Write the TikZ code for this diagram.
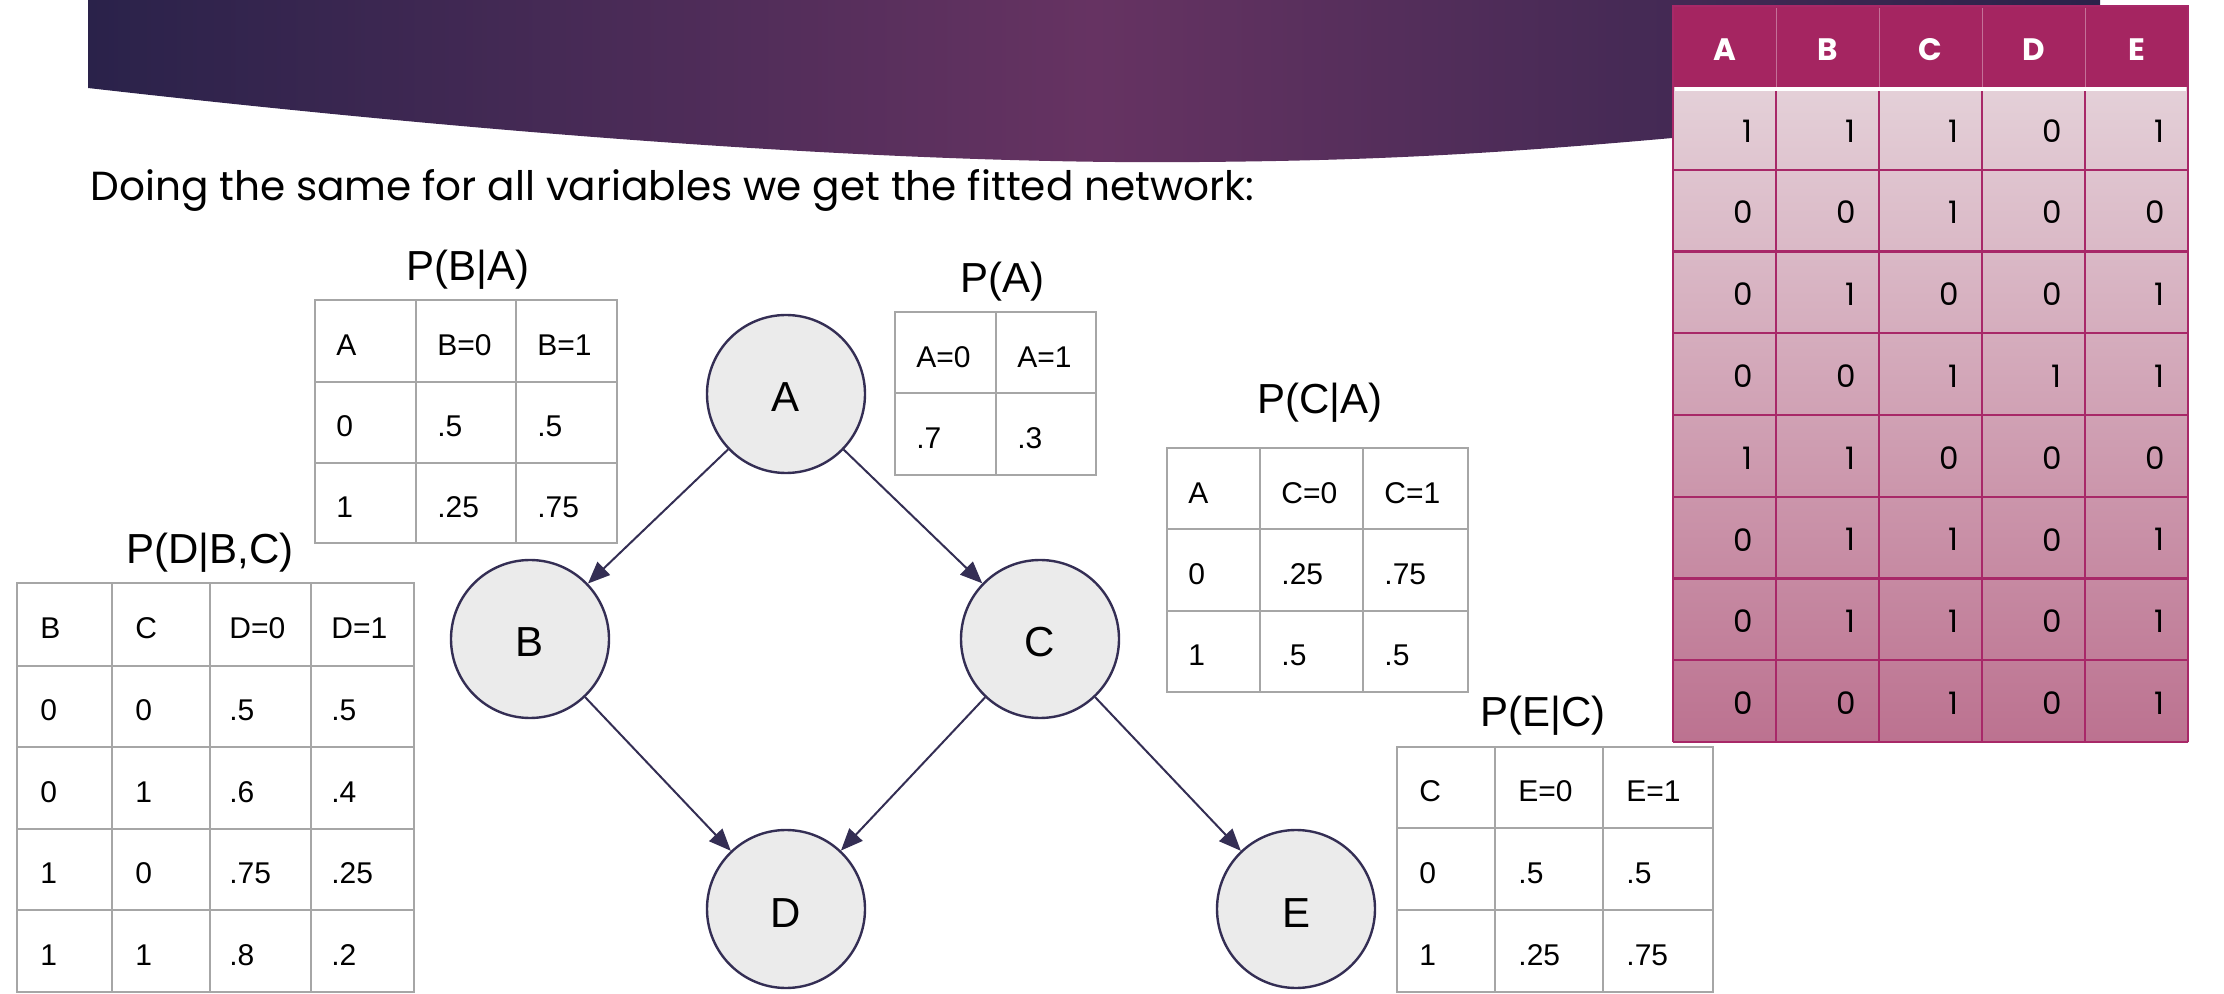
\documentclass[tikz,border=0pt]{standalone}
\usepackage{fontspec}
\setmainfont{Liberation Sans}
\newfontfamily\gothic{Poppins}
\usetikzlibrary{arrows.meta}

\definecolor{bannerdark}{RGB}{42,34,74}
\definecolor{bannermid}{RGB}{102,51,98}
\definecolor{gridgray}{RGB}{166,166,166}
\definecolor{nodeedge}{RGB}{52,46,84}
\definecolor{nodefill}{RGB}{235,235,235}
\definecolor{headmagenta}{RGB}{165,37,97}
\definecolor{cellline}{RGB}{168,40,104}
\definecolor{celltop}{RGB}{228,208,216}
\definecolor{cellbottom}{RGB}{188,114,144}

\pgfdeclarehorizontalshading{banner}{100bp}{color(0bp)=(bannerdark); color(25bp)=(bannerdark); color(50bp)=(bannermid); color(75bp)=(bannerdark); color(100bp)=(bannerdark)}

\begin{document}
\begin{tikzpicture}[x=0.5pt, y=-0.5pt,
	var/.style={circle, draw=nodeedge, fill=nodefill, line width=1.2pt, minimum size=79pt, inner sep=0pt, text height=18pt, text depth=0pt, font=\fontsize{21}{25}\selectfont},
	link/.style={nodeedge, line width=1pt, -{Triangle[length=11pt,width=9pt]}},
	cpt/.style={gridgray, line width=1.3pt},
	cell/.style={anchor=west, inner sep=0pt, font=\fontsize{15}{18}\selectfont},
	title/.style={inner sep=0pt, font=\fontsize{21}{25}\selectfont},
	hdr/.style={inner sep=0pt, text=white, font=\gothic\bfseries\fontsize{15.5}{18}\selectfont},
	bit/.style={anchor=east, inner sep=0pt, font=\gothic\fontsize{15.5}{18}\selectfont}]
				\useasboundingbox (0,0) rectangle (2224,994);
				%
				\shade [shading=banner] (88,0) -- (88,88) .. controls (500,135) and (900,165) .. (1200,162)
				.. controls (1450,160) and (1600,148) .. (2100,95) -- (2100,0) -- cycle;
				\node [anchor=base west, inner sep=0pt, font=\gothic\fontsize{20.3}{24}\selectfont] (intro) at (90,201) {Doing the same for all variables we get the fitted network:};
				%
				\fill [headmagenta] (1673,6) rectangle (2188,88);
				\shade [top color=celltop, bottom color=cellbottom] (1673,88) rectangle (2188,742);
				\foreach \x in {1776,1879,...,2085} \draw [white, opacity=0.35, line width=0.5pt] (\x,8) -- (\x,88);
				\foreach \x in {1673,1776,...,2188} \draw [cellline, line width=1.1pt] (\x,88) -- (\x,742);
				\foreach \y in {1,...,8} \draw [cellline, line width=1.1pt] (1673,{88+81.75*\y}) -- (2188,{88+81.75*\y});
				\draw [cellline, line width=1.1pt] (1673,88) -- (1673,6) -- (2188,6) -- (2188,88);
				\draw [white, line width=2pt] (1675,89) -- (2186,89);
				\foreach \h [count=\i] in {A,B,C,D,E}
					\node [hdr] (h\h) at ({1673+103*(\i-0.5)},50) {\h};
				\foreach \row [count=\r] in {{1,1,1,0,1},{0,0,1,0,0},{0,1,0,0,1},{0,0,1,1,1},{1,1,0,0,0},{0,1,1,0,1},{0,1,1,0,1},{0,0,1,0,1}}
					\foreach \v [count=\c] in \row
						\node [bit] (d\r\c) at ({1673+103*\c-23},{90+81.75*(\r-0.5)}) {\v};
				%
				\node [title] (tBA) at (468,270) {P(B|A)};
				\draw [cpt] (315,300) rectangle (617,543);
				\draw [cpt] (416,300) -- (416,543) (516,300) -- (516,543) (315,382) -- (617,382) (315,463) -- (617,463);
				\foreach \yy/\ma/\mb/\mc [count=\r] in {345/A/B=0/B=1, 426/0/.5/.5, 507/1/.25/.75} {
					\node [cell] (ba\r1) at (336,\yy) {\ma};
					\node [cell] (ba\r2) at (437,\yy) {\mb};
					\node [cell] (ba\r3) at (537,\yy) {\mc};
				}
				%
				\node [title] (tA) at (1002,282) {P(A)};
				\draw [cpt] (895,312) rectangle (1096,475);
				\draw [cpt] (996,312) -- (996,475) (895,393) -- (1096,393);
				\node [cell] (a11) at (916,357) {A=0};
				\node [cell] (a12) at (1017,357) {A=1};
				\node [cell] (a21) at (916,438) {.7};
				\node [cell] (a22) at (1017,438) {.3};
				%
				\node [title] (tCA) at (1320,403) {P(C|A)};
				\draw [cpt] (1167,448) rectangle (1468,692);
				\draw [cpt] (1260,448) -- (1260,692) (1363,448) -- (1363,692) (1167,529) -- (1468,529) (1167,611) -- (1468,611);
				\foreach \yy/\ma/\mb/\mc [count=\r] in {493/A/C=0/C=1, 574/0/.25/.75, 655/1/.5/.5} {
					\node [cell] (ca\r1) at (1188,\yy) {\ma};
					\node [cell] (ca\r2) at (1281,\yy) {\mb};
					\node [cell] (ca\r3) at (1384,\yy) {\mc};
				}
				%
				\node [title] (tDBC) at (210,553) {P(D|B,C)};
				\draw [cpt] (17,583) rectangle (414,992);
				\draw [cpt] (112,583) -- (112,992) (210,583) -- (210,992) (311,583) -- (311,992);
				\foreach \y in {666,747,829,910} \draw [cpt] (17,\y) -- (414,\y);
				\foreach \yy/\ma/\mb/\mc/\md [count=\r] in {628/B/C/D=0/D=1, 710/0/0/.5/.5, 792/0/1/.6/.4, 873/1/0/.75/.25, 955/1/1/.8/.2} {
					\node [cell] (dbc\r1) at (40,\yy) {\ma};
					\node [cell] (dbc\r2) at (135,\yy) {\mb};
					\node [cell] (dbc\r3) at (229,\yy) {\mc};
					\node [cell] (dbc\r4) at (331,\yy) {\md};
				}
				%
				\node [title] (tEC) at (1543,716) {P(E|C)};
				\draw [cpt] (1397,747) rectangle (1713,992);
				\draw [cpt] (1495,747) -- (1495,992) (1603,747) -- (1603,992) (1397,828) -- (1713,828) (1397,910) -- (1713,910);
				\foreach \yy/\ma/\mb/\mc [count=\r] in {791/C/E=0/E=1, 873/0/.5/.5, 955/1/.25/.75} {
					\node [cell] (ec\r1) at (1419,\yy) {\ma};
					\node [cell] (ec\r2) at (1518,\yy) {\mb};
					\node [cell] (ec\r3) at (1626,\yy) {\mc};
				}
				%
				\node [var] (A) at (786,394) {A};
				\node [var] (B) at (530,639) {B};
				\node [var] (C) at (1040,639) {C};
				\node [var] (D) at (786,909) {D};
				\node [var] (E) at (1296,909) {E};
				\draw [link] (A) -- (B);
				\draw [link] (A) -- (C);
				\draw [link] (B) -- (D);
				\draw [link] (C) -- (D);
				\draw [link] (C) -- (E);
			\end{tikzpicture}
\end{document}
